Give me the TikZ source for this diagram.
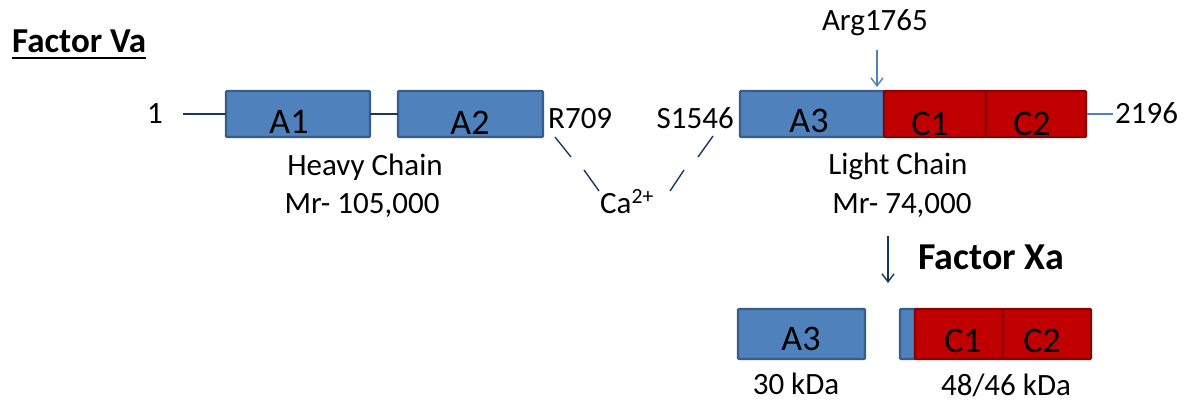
\documentclass[tikz,border=0pt]{standalone}
\usepackage{fontspec}
\setmainfont{Carlito}
\usetikzlibrary{arrows.meta}
\definecolor{domblue}{HTML}{4F81BD}
\definecolor{domblueedge}{HTML}{385D8A}
\definecolor{domred}{HTML}{C00000}
\definecolor{domrededge}{HTML}{8C0000}
\definecolor{linkblue}{HTML}{17375E}
\tikzset{
  lbl/.style={font=\fontsize{31}{34}\selectfont, inner sep=0pt, anchor=base},
  dlbl/.style={font=\fontsize{36}{40}\selectfont, inner sep=0pt, anchor=base},
  bluebox/.style={fill=domblue, draw=domblueedge, line width=2.2pt, rounded corners=1pt},
  redbox/.style={fill=domred, draw=domrededge, line width=2.2pt, rounded corners=1pt},
  link/.style={draw=linkblue, line width=1.4pt},
  pale/.style={draw=domblue, line width=1.4pt},
  tip/.style={-{Straight Barb[length=8pt,width=12pt]}},
}
\begin{document}
\begin{tikzpicture}[x=1pt,y=-1pt]
\useasboundingbox (0,0) rectangle (1194,405);

% title
\node[font=\fontsize{35}{38}\selectfont\bfseries, inner sep=0pt, anchor=base west] (fva) at (12,52) {Factor Va};
\draw[line width=2.2pt] (fva.base west) ++(0,6) coordinate (ulw) -- (ulw -| fva.base east);

% heavy chain
\node[lbl] (n1) at (155,123) {1};
\coordinate (n1e) at (183,114);
\draw[bluebox] (226,91) rectangle (370,137);
\draw[bluebox] (398,91) rectangle (543,137);
\coordinate (a1w) at (226,114);
\coordinate (a1e) at (370,114);
\coordinate (a2w) at (398,114);
\node[dlbl] (a1) at (289,133) {A1};
\node[dlbl] (a2) at (470,134) {A2};
\draw[link] (n1e) -- (a1w);
\draw[link] (a1e) -- (a2w);
\node[lbl, anchor=base west] (r709) at (548,128) {R709};
\node[lbl] (hc) at (365,175) {Heavy Chain};
\node[lbl] (hcm) at (362,213) {Mr- 105,000};

% calcium bridge
\node[lbl, anchor=base west] (ca) at (600,213) {Ca\textsuperscript{2+}};
\coordinate (dl1) at (555,137);
\coordinate (dl2) at (571,157);
\coordinate (dl3) at (584,170);
\coordinate (dl4) at (599,191);
\coordinate (dr1) at (713,136);
\coordinate (dr2) at (698,157);
\coordinate (dr3) at (684,170);
\coordinate (dr4) at (670,191);
\draw[link] (dl1) -- (dl2);
\draw[link] (dl3) -- (dl4);
\draw[link] (dr1) -- (dr2);
\draw[link] (dr3) -- (dr4);

% light chain
\node[lbl, anchor=base east] (s1546) at (734,128) {S1546};
\draw[bluebox] (740,91) rectangle (884,137);
\draw[redbox] (884,91) rectangle (986,137);
\draw[redbox] (986,91) rectangle (1086,137);
\node[dlbl] (a3) at (809,132) {A3};
\node[dlbl] (c1) at (930,135) {C1};
\node[dlbl] (c2) at (1032,135) {C2};
\coordinate (lce) at (1087,114);
\coordinate (n2196w) at (1113,114);
\draw[pale] (lce) -- (n2196w);
\node[lbl, anchor=base west] (n2196) at (1115,123) {2196};
\node[lbl, anchor=base east] (arg) at (928,30) {Arg1765};
\coordinate (argtop) at (877,50);
\coordinate (cut) at (877,87);
\draw[pale, tip] (argtop) -- (cut);
\node[lbl] (lc) at (898,174) {Light Chain};
\node[lbl] (lcm) at (902,213) {Mr- 74,000};

% factor Xa cleavage
\coordinate (fxtop) at (888,236);
\coordinate (fxbot) at (888,283);
\draw[link, tip] (fxtop) -- (fxbot);
\node[font=\fontsize{38}{42}\selectfont\bfseries, inner sep=0pt, anchor=base west] (fxa) at (918,269) {Factor Xa};

% cleavage products
\draw[bluebox] (738,309) rectangle (865,359);
\node[dlbl] (pa3) at (801,350) {A3};
\draw[bluebox] (900,309) rectangle (915,359);
\draw[redbox] (915,309) rectangle (1003,359);
\draw[redbox] (1003,309) rectangle (1091,359);
\node[dlbl] (pc1) at (963,352) {C1};
\node[dlbl] (pc2) at (1042,352) {C2};
\node[lbl] (k30) at (796,394) {30 kDa};
\node[lbl] (k48) at (1006,395) {48/46 kDa};
\end{tikzpicture}
\end{document}
